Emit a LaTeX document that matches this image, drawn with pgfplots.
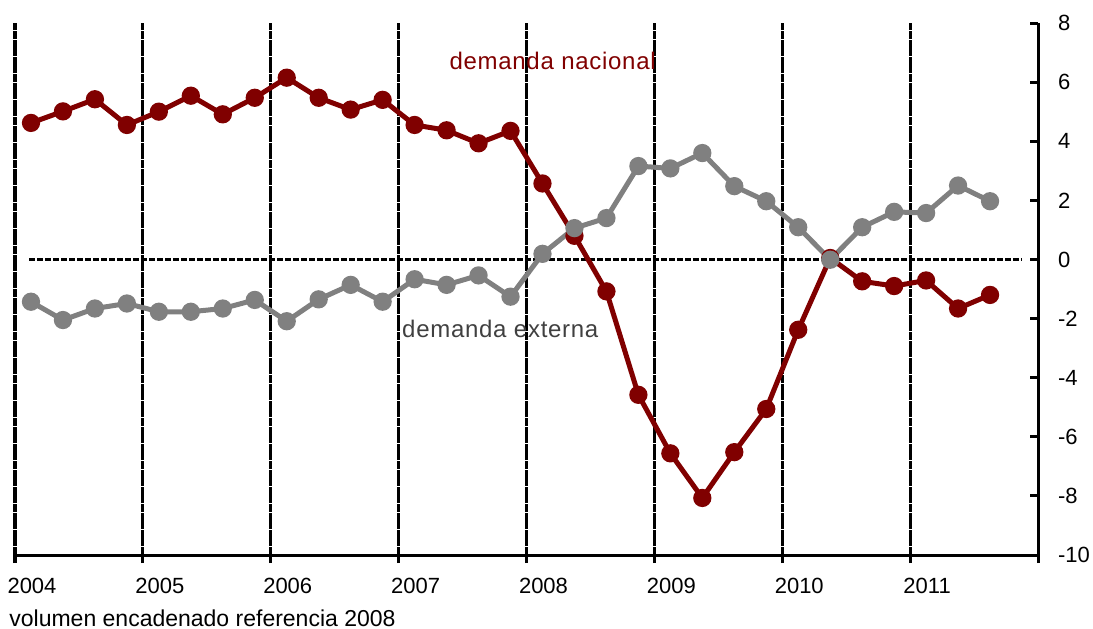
\documentclass[border=0pt]{standalone}
\usepackage{fontspec}
\setmainfont{Liberation Sans}
\usepackage{pgfplots}
\pgfplotsset{compat=1.18}
\definecolor{nac}{HTML}{800000}
\definecolor{ext}{HTML}{808080}
\definecolor{exttxt}{HTML}{404040}
\begin{document}
\begin{tikzpicture}
\begin{axis}[
 scale only axis, width=511.5pt, height=266pt,
 xmin=-0.5, xmax=31.5, ymin=-10, ymax=8,
 axis x line*=bottom, axis y line*=right,
 axis line style={line width=1.5pt, black},
 xtick={-0.5,3.5,...,27.5},
 xticklabels={2004,2005,2006,2007,2008,2009,2010,2011},
 extra x ticks={31.5}, extra x tick labels={},
 extra x tick style={grid=none},
 xtick align=outside, ytick align=inside,
 major tick length=4pt,
 tick style={line width=1.5pt, black},
 xmajorgrids,
 major grid style={black, line width=1.6pt, dash pattern=on 4pt off 0.3pt},
 ytick={-10,-8,...,8},
 xticklabel style={xshift=8.5pt, yshift=-4pt},
 yticklabel style={anchor=west, xshift=6.5pt},
 ticklabel style={font=\fontsize{11}{13}\selectfont},
 /pgf/number format/assume math mode=true,
 clip=false,
]
\addplot[black, line width=1.1pt, dash pattern=on 3pt off 1pt] coordinates {(-0.05,0) (31,0)};
\addplot[nac, line width=2.5pt, mark=*, mark size=3.3pt, mark options={solid}] coordinates {
(0,4.62) (1,5.01) (2,5.42) (3,4.55) (4,5.0) (5,5.54) (6,4.91) (7,5.47) (8,6.15) (9,5.47) (10,5.07) (11,5.4) (12,4.55) (13,4.37) (14,3.93) (15,4.35) (16,2.57) (17,0.8) (18,-1.08) (19,-4.58) (20,-6.56) (21,-8.07) (22,-6.52) (23,-5.06) (24,-2.38) (25,0.05) (26,-0.74) (27,-0.9) (28,-0.71) (29,-1.66) (30,-1.2)};
\addplot[ext, line width=2.5pt, mark=*, mark size=3.3pt, mark options={solid}] coordinates {
(0,-1.43) (1,-2.05) (2,-1.66) (3,-1.49) (4,-1.77) (5,-1.77) (6,-1.66) (7,-1.37) (8,-2.09) (9,-1.35) (10,-0.86) (11,-1.43) (12,-0.67) (13,-0.86) (14,-0.54) (15,-1.26) (16,0.19) (17,1.06) (18,1.4) (19,3.16) (20,3.08) (21,3.6) (22,2.48) (23,1.97) (24,1.09) (25,-0.01) (26,1.09) (27,1.61) (28,1.57) (29,2.5) (30,1.97)};
\node[anchor=west, text=nac, font=\fontsize{12}{14}\selectfont\addfontfeature{LetterSpace=3}, inner sep=0pt] at (axis cs:13.08,6.72) {demanda nacional};
\node[anchor=west, text=exttxt, font=\fontsize{12}{14}\selectfont\addfontfeature{LetterSpace=3}, inner sep=0pt] at (axis cs:11.6,-2.35) {demanda externa};
\end{axis}
\node[anchor=west, inner sep=0pt, font=\fontsize{11.5}{13}\selectfont] at (-3pt,-31.5pt) {volumen encadenado referencia 2008};
\pgfresetboundingbox
\path[use as bounding box] (-7.5pt,-36.5pt) rectangle (539pt,277.5pt);
\end{tikzpicture}
\end{document}
